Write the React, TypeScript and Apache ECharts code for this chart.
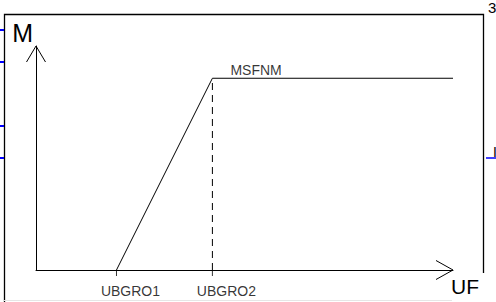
import React, { useEffect, useRef } from "react";
import * as echarts from "echarts";

// Schematic values (arbitrary units)
const tickNames = ["UBGRO1", "UBGRO2"];
const tickValues = [19.3, 42.3];
const curveX = [19.3, 42.3, 100];
const curveY = [0, 85.6, 85.6];
const plateauName = "MSFNM";
const xName = "UF";
const yName = "M";
const xRange = [0, 100];
const yRange = [0, 100];

const FONT = "'Liberation Sans', Arial, Helvetica, sans-serif";

export default function App() {
  const ref = useRef<HTMLDivElement>(null);
  useEffect(() => {
    const chart = echarts.init(ref.current!, null, { renderer: "svg" });
    chart.setOption({
      animation: false,
      backgroundColor: "#ffffff",
      textStyle: { fontFamily: FONT },
      grid: { left: 36, top: 46, right: 43, bottom: 32 },
      xAxis: {
        type: "value",
        min: xRange[0],
        max: xRange[1],
        name: xName,
        nameLocation: "end",
        nameGap: -2,
        nameTextStyle: {
          fontFamily: FONT,
          fontSize: 21,
          color: "#000",
          align: "left",
          verticalAlign: "top",
          padding: [6, 0, 0, 0],
        },
        axisLine: { lineStyle: { color: "#000", width: 1 } },
        axisTick: { show: false },
        axisLabel: { show: false },
        splitLine: { show: false },
      },
      yAxis: {
        type: "value",
        min: yRange[0],
        max: yRange[1],
        name: yName,
        nameLocation: "end",
        nameGap: 1,
        nameTextStyle: {
          fontFamily: FONT,
          fontSize: 25,
          color: "#000",
          align: "right",
          verticalAlign: "bottom",
          padding: [0, 3, 0, 0],
        },
        axisLine: { lineStyle: { color: "#000", width: 1 } },
        axisTick: { show: false },
        axisLabel: { show: false },
        splitLine: { show: false },
      },
      series: [
        {
          type: "line",
          data: curveX.map((x, i) => [x, curveY[i]]),
          symbol: "none",
          lineStyle: { color: "#000", width: 1 },
          silent: true,
        },
        {
          type: "line",
          data: [
            [tickValues[1], 0],
            [tickValues[1], curveY[1]],
          ],
          symbol: "none",
          lineStyle: { color: "#000", width: 1, type: [7, 5] },
          silent: true,
        },
        {
          type: "scatter",
          data: tickValues.map((v, i) => ({ value: [v, 0], name: tickNames[i] })),
          symbol: "rect",
          symbolSize: [1, 6],
          symbolOffset: [0, 3],
          itemStyle: { color: "#000" },
          label: {
            show: true,
            position: "bottom",
            distance: 8,
            offset: [14, 0],
            formatter: (p: any) => p.name,
            color: "#000",
            fontFamily: FONT,
            fontSize: 14,
          },
          silent: true,
        },
        {
          type: "scatter",
          data: [{ value: [curveX[1], curveY[1]], name: plateauName }],
          symbolSize: 0,
          label: {
            show: true,
            position: "right",
            distance: 18,
            offset: [0, -8],
            formatter: (p: any) => p.name,
            color: "#000",
            fontFamily: FONT,
            fontSize: 14,
          },
          silent: true,
        },
      ],
    });

    const yTop = chart.convertToPixel({ gridIndex: 0 }, [xRange[0], yRange[1]]) as number[];
    const xEnd = chart.convertToPixel({ gridIndex: 0 }, [xRange[1], yRange[0]]) as number[];

    const blue = "#0000ff";
    chart.setOption({
      graphic: [
        // arrowheads
        {
          type: "polyline",
          shape: { points: [[yTop[0] - 9.5, yTop[1] + 16], [yTop[0], yTop[1]], [yTop[0] + 9.5, yTop[1] + 16]] },
          style: { stroke: "#000", lineWidth: 1, fill: "none" },
          silent: true,
        },
        {
          type: "polyline",
          shape: { points: [[xEnd[0] - 17, xEnd[1] - 9.5], [xEnd[0], xEnd[1]], [xEnd[0] - 17, xEnd[1] + 9.5]] },
          style: { stroke: "#000", lineWidth: 1, fill: "none" },
          silent: true,
        },
        // frame
        {
          type: "polyline",
          shape: { points: [[4.5, 302], [4.5, 14.5], [483.5, 14.5], [483.5, 273]] },
          style: { stroke: "#000", lineWidth: 1.3, fill: "none" },
          silent: true,
        },
        {
          type: "line",
          shape: { x1: 4, y1: 300.5, x2: 452, y2: 300.5 },
          style: { stroke: "#e6e6e6", lineWidth: 1 },
          silent: true,
        },
        // blue connector stubs
        ...[30, 62, 126, 158].map((y) => ({
          type: "line",
          shape: { x1: 0, y1: y, x2: 4, y2: y },
          style: { stroke: blue, lineWidth: 2 },
          silent: true,
        })),
        {
          type: "line",
          shape: { x1: 486, y1: 158, x2: 496, y2: 158 },
          style: { stroke: blue, lineWidth: 1.5 },
          silent: true,
        },
        {
          type: "text",
          x: 488,
          y: 0,
          style: { text: "3", fontFamily: FONT, fontSize: 15, fill: "#000" },
          silent: true,
        },
        {
          type: "text",
          x: 493,
          y: 145,
          style: { text: "I", fontFamily: FONT, fontSize: 14, fill: "#000" },
          silent: true,
        },
      ],
    });

    return () => chart.dispose();
  }, []);

  return (
    <div
      ref={ref}
      style={{ position: "absolute", left: 0, top: 0, width: 496, height: 302, background: "#fff" }}
    />
  );
}
